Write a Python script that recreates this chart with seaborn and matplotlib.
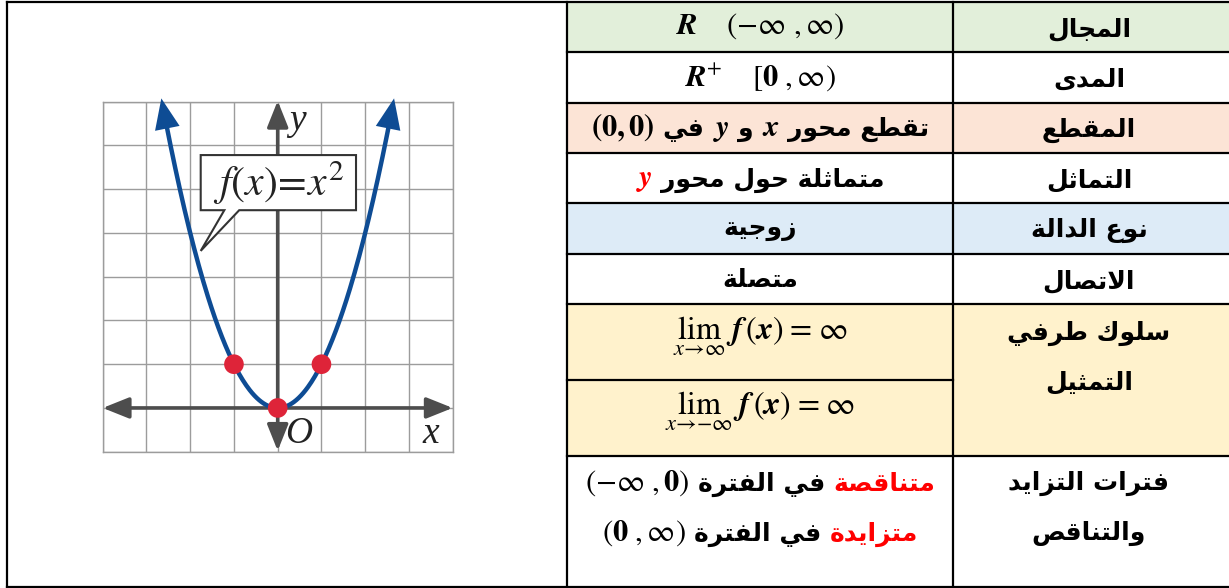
import numpy as np
import matplotlib
matplotlib.use("Agg")
import matplotlib.pyplot as plt
import seaborn as sns
from matplotlib.patches import Rectangle, Polygon
from matplotlib.offsetbox import TextArea, HPacker, AnnotationBbox

sns.set_style("white")
plt.rcParams["mathtext.fontset"] = "stix"

# ---------------- data ----------------
row_labels = [["المجال"], ["المدى"], ["المقطع"], ["التماثل"], ["نوع الدالة"],
              ["الاتصال"], ["سلوك طرفي", "التمثيل"], ["فترات التزايد", "والتناقص"]]
row_colors = ["#E2EFDA", None, "#FCE4D6", None, "#DDEBF7", None, "#FFF2CC", None]
domain_math = r"$\mathbfit{R}\quad\ (-\infty\ ,\infty)$"
range_math = r"$\mathbfit{R}^{+}\quad\ [\mathbf{0}\ ,\infty)$"
intercept_words = ["تقطع محور", "و", "في"]
intercept_point = r"$\mathbf{(0,0)}$"
symmetry_words = "متماثلة حول محور"
parity_word = "زوجية"
continuity_word = "متصلة"
limit_exprs = [r"$\lim_{x\to\infty}\;\mathbfit{f}\,(\mathbfit{x})\;=\;\infty$",
               r"$\lim_{x\to-\infty}\;\mathbfit{f}\,(\mathbfit{x})\;=\;\infty$"]
interval_words = ["متناقصة", "متزايدة"]
interval_math = [r"$(-\infty\ ,\mathbf{0})$", r"$(\mathbf{0}\ ,\infty)$"]
interval_link = "في الفترة"

curve_x = np.linspace(-2.66, 2.66, 201)
curve_y = curve_x ** 2          # f(x) = x^2
point_x = [-1, 0, 1]
point_y = [1, 0, 1]

BLUE = "#0E4C94"
RED_DOT = "#DE2439"
RED = "#FF0000"
GRID = "#9c9c9c"
AXIS = "#4d4d4d"

# ---------------- arabic shaping (no raqm in matplotlib) ----------------
DUAL = {"ب": 0xFE8F, "ت": 0xFE95, "ث": 0xFE99, "ج": 0xFE9D, "ح": 0xFEA1, "خ": 0xFEA5,
        "س": 0xFEB1, "ش": 0xFEB5, "ص": 0xFEB9, "ض": 0xFEBD, "ط": 0xFEC1, "ظ": 0xFEC5,
        "ع": 0xFEC9, "غ": 0xFECD, "ف": 0xFED1, "ق": 0xFED5, "ك": 0xFED9, "ل": 0xFEDD,
        "م": 0xFEE1, "ن": 0xFEE5, "ه": 0xFEE9, "ي": 0xFEF1}
RIGHT = {"ا": 0xFE8D, "د": 0xFEA9, "ذ": 0xFEAB, "ر": 0xFEAD, "ز": 0xFEAF, "و": 0xFEED,
         "ى": 0xFEEF, "ة": 0xFE93, "لا": 0xFEFB}


def ar(text):
    toks, i = [], 0
    while i < len(text):
        if text[i] == "ل" and text[i + 1:i + 2] == "ا":
            toks.append("لا")
            i += 2
        else:
            toks.append(text[i])
            i += 1
    out = []
    for k, t in enumerate(toks):
        before = k > 0 and toks[k - 1] in DUAL
        after = k + 1 < len(toks) and (toks[k + 1] in DUAL or toks[k + 1] in RIGHT)
        if t in DUAL:
            off = 3 if (before and after) else 1 if before else 2 if after else 0
            out.append(chr(DUAL[t] + off))
        elif t in RIGHT:
            out.append(chr(RIGHT[t] + (1 if before else 0)))
        else:
            out.append(t)
    return "".join(out)[::-1]


AR = dict(family="DejaVu Sans", weight="bold")
AS = 18   # arabic size
MS = 22   # math size


def put(ax, x, y, parts, sep=6):
    kids = []
    for txt, color, props, size in parts:
        kids.append(TextArea(txt, textprops=dict(fontsize=size, color=color, **props)))
    box = HPacker(children=kids, align="baseline", pad=0, sep=sep)
    ax.add_artist(AnnotationBbox(box, (x, y), frameon=False, pad=0,
                                 box_alignment=(0.5, 0.5)))


# ---------------- figure ----------------
W, H = 1229, 588
fig = plt.figure(figsize=(W / 100, H / 100), dpi=100)
ax = fig.add_axes([0, 0, 1, 1])
ax.set_xlim(0, W)
ax.set_ylim(H, 0)
ax.axis("off")

cols = [7, 567, 953, W]
rows = [1.5, 52, 103, 153, 203, 254, 304, 456, 587]
split = 380

for i, c in enumerate(row_colors):
    if c:
        ax.add_patch(Rectangle((cols[1], rows[i]), W - cols[1], rows[i + 1] - rows[i],
                               color=c, lw=0, zorder=0))

lk = dict(color="black", lw=1.6, solid_capstyle="projecting", zorder=2)
ax.plot([cols[0], W], [rows[0], rows[0]], **lk)
ax.plot([cols[0], W], [rows[-1], rows[-1]], **lk)
for cx in cols[:3]:
    ax.plot([cx, cx], [rows[0], rows[-1]], **lk)
for ry in rows[1:-1]:
    ax.plot([cols[1], W], [ry, ry], **lk)
ax.plot([cols[1], cols[2]], [split, split], **lk)

# right column labels
rx = (cols[2] + W) / 2 - 2
for i, lines in enumerate(row_labels):
    if len(lines) == 1:
        ys = [(rows[i] + rows[i + 1]) / 2 + 2]
    elif i == 6:
        ys = [333, 382]
    else:
        ys = [483, 533]
    for txt, yy in zip(lines, ys):
        ax.text(rx, yy, ar(txt), ha="center", va="center", fontsize=AS, color="black", **AR)

# left column contents
lx = (cols[1] + cols[2]) / 2
put(ax, lx, 26, [(domain_math, "black", {}, MS)])
put(ax, lx, 77, [(range_math, "black", {}, MS)])
put(ax, lx, 128, [(intercept_point, "black", {}, MS),
                  (ar(intercept_words[2]), "black", AR, AS),
                  (r"$\mathbfit{y}$", "black", {}, MS),
                  (ar(intercept_words[1]), "black", AR, AS),
                  (r"$\mathbfit{x}$", "black", {}, MS),
                  (ar(intercept_words[0]), "black", AR, AS)])
put(ax, lx, 179, [(r"$\mathbfit{y}$", RED, {}, MS), (ar(symmetry_words), "black", AR, AS)])
ax.text(lx, 229, ar(parity_word), ha="center", va="center", fontsize=AS, color="black", **AR)
ax.text(lx, 280, ar(continuity_word), ha="center", va="center", fontsize=AS, color="black", **AR)
ax.text(lx, 336, limit_exprs[0], ha="center", va="center", fontsize=23, color="black")
ax.text(lx, 411, limit_exprs[1], ha="center", va="center", fontsize=23, color="black")
for k, yy in enumerate([483, 533]):
    put(ax, lx, yy, [(interval_math[k], "black", {}, MS),
                     (ar(interval_link), "black", AR, AS),
                     (ar(interval_words[k]), RED, AR, AS)])

# ---------------- graph ----------------
gax = fig.add_axes([102.7 / W, 1 - 451.7 / H, 350 / W, 350 / H])
gax.set_xlim(-4, 4)
gax.set_ylim(-1, 7)
gax.set_xticks(range(-4, 5))
gax.set_yticks(range(-1, 8))
gax.grid(True, color=GRID, lw=1)
gax.tick_params(length=0, labelbottom=False, labelleft=False)
for s in gax.spines.values():
    s.set_color(GRID)
    s.set_linewidth(1)

axis_arrow = dict(arrowstyle="<|-|>,head_length=0.8,head_width=0.32", mutation_scale=20,
                  color=AXIS, lw=2.6, shrinkA=0, shrinkB=0)
gax.annotate("", xy=(4, 0), xytext=(-4, 0), arrowprops=axis_arrow,
             annotation_clip=False, zorder=2)
gax.annotate("", xy=(0, 7.02), xytext=(0, -0.98), arrowprops=axis_arrow,
             annotation_clip=False, zorder=2)

sns.lineplot(x=curve_x[4:-4], y=curve_y[4:-4], ax=gax, color=BLUE, lw=3.2,
             sort=False, zorder=3)
head = dict(arrowstyle="-|>,head_length=1.1,head_width=0.45", mutation_scale=20,
            color=BLUE, lw=0, shrinkA=0, shrinkB=0)
for a, b in [(0, 12), (-1, -13)]:
    gax.annotate("", xy=(curve_x[a], curve_y[a]), xytext=(curve_x[b], curve_y[b]),
                 arrowprops=head, annotation_clip=False, zorder=3)

sns.scatterplot(x=point_x, y=point_y, ax=gax, color=RED_DOT, s=200, edgecolor="none",
                zorder=5, legend=False)

callout = [(-1.76, 5.78), (1.79, 5.78), (1.79, 4.52), (-0.88, 4.52),
           (-1.76, 3.59), (-1.22, 4.52), (-1.76, 4.52)]
gax.add_patch(Polygon(callout, closed=True, facecolor="white", edgecolor="#333333",
                      lw=1.5, zorder=6))
gax.text(0.02, 5.13, r"$f(x)\!=\!x^{2}$", fontsize=30, ha="center", va="center",
         color="#222222", zorder=7)

lab = dict(family="Liberation Serif", style="italic", fontsize=27, color="#222222",
           va="baseline", ha="left", zorder=7)
gax.text(0.25, 6.35, "y", **lab)
gax.text(0.17, -0.79, "O", **lab)
gax.text(3.3, -0.8, "x", **lab)

fig.savefig("out.png", dpi=100)
